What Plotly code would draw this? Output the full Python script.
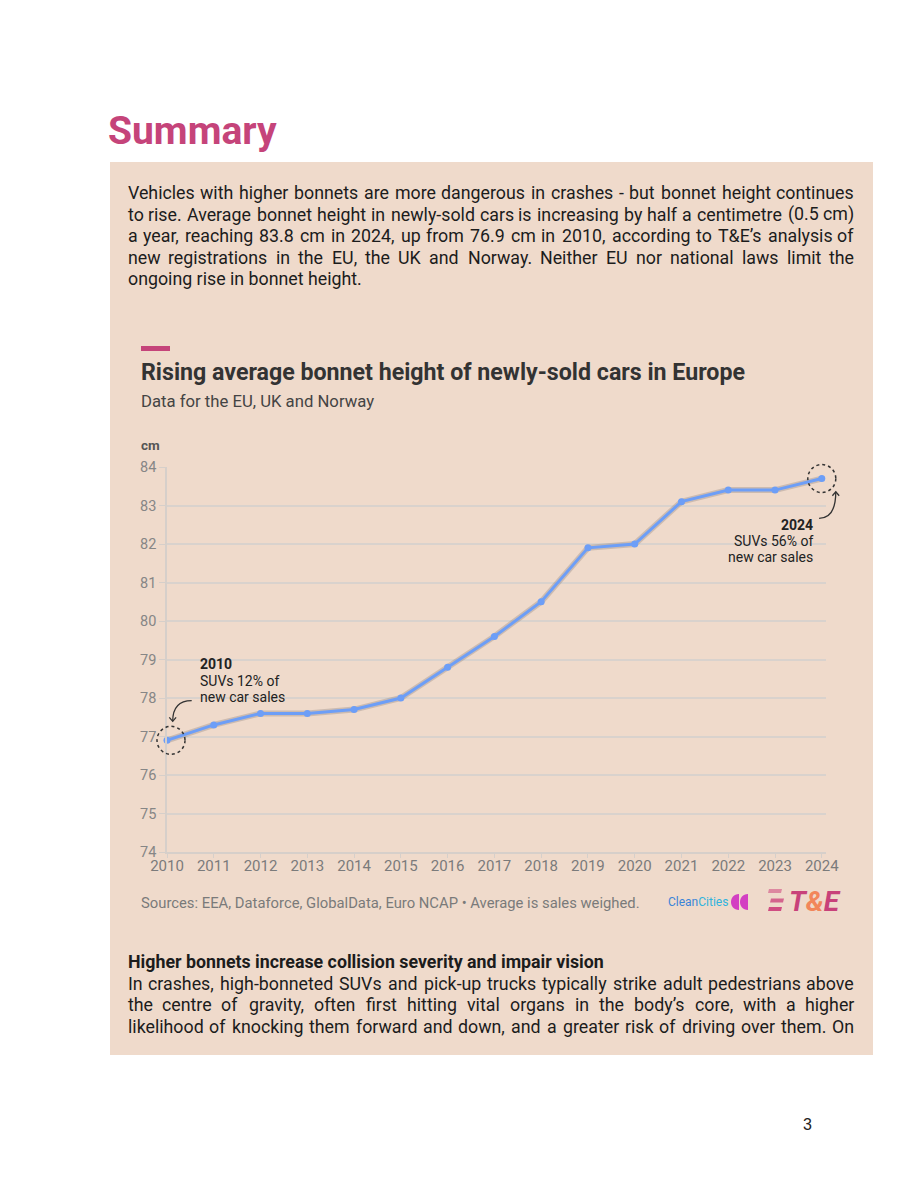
import plotly.graph_objects as go

PAGE_W, PAGE_H = 920, 1191
BODY_MARGIN = 8  # the browser's default body margin shifts the figure
FONT = "Roboto"
INK = "#1c1c1c"
PINK = "#c5447a"
BEIGE = "#efdacb"
LINE_BLUE = "#6d9ef7"
BODY_SIZE = 17.8

# Chart data.
YEARS = [2010, 2011, 2012, 2013, 2014, 2015, 2016, 2017,
         2018, 2019, 2020, 2021, 2022, 2023, 2024]
BONNET_CM = [76.9, 77.3, 77.6, 77.6, 77.7, 78.0, 78.8, 79.6,
             80.5, 81.9, 82.0, 83.1, 83.4, 83.4, 83.7]
Y_TICKS = [74, 75, 76, 77, 78, 79, 80, 81, 82, 83, 84]
X_RANGE = [2010, 2024.09]
Y_RANGE = [74, 84]

CHART_TITLE = "Rising average bonnet height of newly-sold cars in Europe"
CHART_SUBTITLE = "Data for the EU, UK and Norway"
SOURCES = "Sources: EEA, Dataforce, GlobalData, Euro NCAP • Average is sales weighed."
FIRST_CALLOUT = ["<b>2010</b>", "SUVs 12% of", "new car sales"]
LAST_CALLOUT = ["<b>2024</b>", "SUVs 56% of", "new car sales"]

TOP_PARAGRAPH = [
    "Vehicles with higher bonnets are more dangerous in crashes - but bonnet height continues",
    "to rise. Average bonnet height in newly-sold cars is increasing by half a centimetre (0.5 cm)",
    "a year, reaching 83.8 cm in 2024, up from 76.9 cm in 2010, according to T&E’s analysis of",
    "new registrations in the EU, the UK and Norway. Neither EU nor national laws limit the",
    "ongoing rise in bonnet height.",
]
BOTTOM_HEADING = "Higher bonnets increase collision severity and impair vision"
BOTTOM_PARAGRAPH = [
    "In crashes, high-bonneted SUVs and pick-up trucks typically strike adult pedestrians above",
    "the centre of gravity, often first hitting vital organs in the body’s core, with a higher",
    "likelihood of knocking them forward and down, and a greater risk of driving over them. On",
]

# Approximate Roboto Regular advance widths (units per em = 2048), used to
# spread words across a justified line.
_ROBOTO_W = dict(zip(
    "abcdefghijklmnopqrstuvwxyz",
    [1088, 1120, 1044, 1126, 1058, 693, 1120, 1101, 496, 477, 1013, 496, 1753,
     1120, 1145, 1120, 1133, 677, 1031, 680, 1120, 967, 1502, 991, 945, 991],
))
_ROBOTO_W.update(zip(
    "ABCDEFGHIJKLMNOPQRSTUVWXYZ",
    [1336, 1275, 1333, 1343, 1164, 1132, 1395, 1461, 557, 1130, 1284, 1103, 1788,
     1461, 1408, 1292, 1408, 1260, 1218, 1221, 1328, 1303, 1817, 1284, 1230, 1226],
))
_ROBOTO_W.update({d: 1150 for d in "0123456789"})
_ROBOTO_W.update({".": 539, ",": 402, "-": 554, "(": 699, ")": 712,
                  "’": 409, "&": 1275, "%": 1466})


def px(x):
    return (x - BODY_MARGIN) / PAGE_W


def py(y):
    return 1 - (y - BODY_MARGIN) / PAGE_H


def to_domain(xv, yv):
    """Data value -> fraction of the plot area, for unclipped decorations."""
    return ((xv - X_RANGE[0]) / (X_RANGE[1] - X_RANGE[0]),
            (yv - Y_RANGE[0]) / (Y_RANGE[1] - Y_RANGE[0]))


def text_width(s, size):
    # the browser renders a touch wider than the table says
    return sum(_ROBOTO_W.get(ch, 1100) for ch in s) / 2048 * size * 1.02


def add_text(fig, text, x, y, size, color=INK, anchor="left", family=FONT):
    fig.add_annotation(
        text=text, xref="paper", yref="paper", x=px(x), y=py(y),
        xanchor=anchor, yanchor="middle", showarrow=False, borderpad=0,
        font=dict(family=family, size=size, color=color),
    )


def add_justified(fig, line, y, x0=127, x1=855, size=BODY_SIZE):
    """Place each word of a line so the line fills x0..x1 like justified text."""
    words = line.split(" ")
    widths = [text_width(w, size) for w in words]
    gap = (x1 - x0 - sum(widths)) / (len(words) - 1)
    x = x0
    for i, (word, w) in enumerate(zip(words, widths)):
        word_html = word.replace("&", "&amp;")
        if i == 0:
            add_text(fig, word_html, x, y, size)
        elif i == len(words) - 1:
            add_text(fig, word_html, x1, y, size, anchor="right")
        else:
            add_text(fig, word_html, x + w / 2, y, size, anchor="center")
        x += w + gap


fig = go.Figure()

# soft grey halo under the line
fig.add_trace(
    go.Scatter(
        x=YEARS,
        y=BONNET_CM,
        mode="lines",
        line=dict(color="rgba(140,130,125,0.35)", width=6),
        hoverinfo="skip",
        cliponaxis=False,
    )
)
fig.add_trace(
    go.Scatter(
        x=YEARS,
        y=BONNET_CM,
        mode="lines+markers",
        line=dict(color=LINE_BLUE, width=3),
        marker=dict(color=LINE_BLUE, size=7),
        cliponaxis=False,
        hovertemplate="%{x}: %{y:.1f} cm<extra></extra>",
    )
)

# --- page furniture -------------------------------------------------------
fig.add_shape(type="rect", xref="paper", yref="paper",
              x0=px(110), x1=px(873), y0=py(1055), y1=py(162),
              fillcolor=BEIGE, line_width=0, layer="below")
fig.add_shape(type="rect", xref="paper", yref="paper",
              x0=px(141), x1=px(170), y0=py(351), y1=py(346),
              fillcolor=PINK, line_width=0)

add_text(fig, "<b>Summary</b>", 107, 131, 39, color=PINK)
for i, line in enumerate(TOP_PARAGRAPH):
    y = 192.8 + i * 21.5
    if i < len(TOP_PARAGRAPH) - 1:
        add_justified(fig, line, y)
    else:
        add_text(fig, line, 127, y, BODY_SIZE)

add_text(fig, "<b>" + BOTTOM_HEADING + "</b>", 127, 961, BODY_SIZE)
for i, line in enumerate(BOTTOM_PARAGRAPH):
    add_justified(fig, line, 983.1 + i * 21.5)

add_text(fig, "3", 807, 1124, 16, color="#222", anchor="center",
         family="Liberation Sans, Arial")

# chart header and footer
add_text(fig, "<b>" + CHART_TITLE + "</b>", 140, 372, 23.2, color="#333")
add_text(fig, CHART_SUBTITLE, 140, 401.5, 16.7, color="#444")
add_text(fig, "<b>cm</b>", 140, 444.5, 13.5, color="#555")
add_text(fig, SOURCES, 140, 903, 14.8, color="#7a7a7a")

# Clean Cities mark
add_text(fig, "<span style='color:#3a84d8'>Clean</span>"
              "<span style='color:#2fb4de'>Cities</span>",
         667, 902, 12, color="#3a84d8")
for flat_x in (739, 748):
    cx, cy, r = flat_x, 902, 8
    k = r * 4 / 3
    fig.add_shape(
        type="path", xref="paper", yref="paper", line_width=0,
        fillcolor="#d33fc2",
        path=(f"M {px(cx)} {py(cy - r)} "
              f"C {px(cx - k)} {py(cy - r)} {px(cx - k)} {py(cy + r)} {px(cx)} {py(cy + r)} Z"),
    )

# T&E mark
for (bx0, bx1, by), alpha in zip([(768, 781, 891), (770, 783, 900.5), (768, 781, 909)],
                                 [0.55, 0.8, 0.95]):
    fig.add_shape(
        type="path", xref="paper", yref="paper", line_width=0,
        fillcolor=f"rgba(205,70,125,{alpha})",
        path=(f"M {px(bx0 + 1)} {py(by - 2)} L {px(bx1 + 1)} {py(by - 2)} "
              f"L {px(bx1)} {py(by + 2)} L {px(bx0)} {py(by + 2)} Z"),
    )
add_text(fig, "<b><i>T<span style='color:#f2865a'>&amp;</span>E</i></b>",
         788, 901, 28, color="#c8427a")

# --- callouts around first and last year ----------------------------------
callouts = [
    (YEARS[0], BONNET_CM[0], FIRST_CALLOUT, "left", 32, [76.2, 59.7, 43.2]),
    (YEARS[-1], BONNET_CM[-1], LAST_CALLOUT, "right", -8, [-46.7, -62.4, -78.0]),
]
for xv, yv, lines, anchor, dx, dys in callouts:
    for text, dy in zip(lines, dys):
        fig.add_annotation(
            text=text, x=xv, y=yv, xref="x", yref="y",
            xanchor=anchor, yanchor="middle", xshift=dx, yshift=dy,
            showarrow=False, borderpad=0,
            font=dict(family=FONT, size=14, color="#222"),
        )

# dotted rings and curved arrows; domain refs so they are not clipped
first_x, first_y = to_domain(YEARS[0], BONNET_CM[0])
last_x, last_y = to_domain(YEARS[-1], BONNET_CM[-1])
deco = dict(xref="x domain", yref="y domain", xsizemode="pixel", ysizemode="pixel")
ring_line = dict(color="#333", width=1.5, dash="dot")
arrow_line = dict(color="#333", width=1.3)

fig.add_shape(type="circle", xanchor=first_x, yanchor=first_y,
              x0=-10, x1=18, y0=-14, y1=14, line=ring_line, **deco)
fig.add_shape(type="circle", xanchor=last_x, yanchor=last_y,
              x0=-14, x1=14, y0=-14, y1=14, line=ring_line, **deco)
fig.add_shape(type="path", xanchor=first_x, yanchor=first_y,
              path="M 24.7 39.7 Q 5.7 39.7 5.7 19", line=arrow_line, **deco)
fig.add_shape(type="path", xanchor=first_x, yanchor=first_y,
              path="M 2.3 23 L 5.7 19 L 9.1 23", line=arrow_line, **deco)
fig.add_shape(type="path", xanchor=last_x, yanchor=last_y,
              path="M -2.7 -39.8 Q 14 -39.8 14 -13.2", line=arrow_line, **deco)
fig.add_shape(type="path", xanchor=last_x, yanchor=last_y,
              path="M 10.6 -17.2 L 14 -13.2 L 17.4 -17.2", line=arrow_line, **deco)

fig.update_layout(
    width=PAGE_W,
    height=PAGE_H,
    margin=dict(l=0, r=0, t=0, b=0, autoexpand=False),
    paper_bgcolor="white",
    plot_bgcolor="rgba(0,0,0,0)",
    showlegend=False,
    font=dict(family=FONT),
    xaxis=dict(
        domain=[px(167), px(826)],
        range=X_RANGE,
        tickvals=YEARS,
        showgrid=False,
        zeroline=False,
        showline=True,
        linecolor="#d6cfca",
        linewidth=1.5,
        ticks="outside",
        ticklen=4,
        tickcolor="#d6cfca",
        ticklabelstandoff=-5,
        tickfont=dict(family=FONT, size=15, color="#7b7b7b"),
    ),
    yaxis=dict(
        domain=[py(852), py(467)],
        range=Y_RANGE,
        tickvals=Y_TICKS,
        showgrid=True,
        gridcolor="#d9d2cd",
        gridwidth=1.5,
        zeroline=False,
        showline=True,
        linecolor="#d6cfca",
        linewidth=1.5,
        ticks="outside",
        ticklen=6,
        tickcolor="#d6cfca",
        tickfont=dict(family=FONT, size=14.5, color="#868686"),
    ),
)

fig.write_html("out.html")
